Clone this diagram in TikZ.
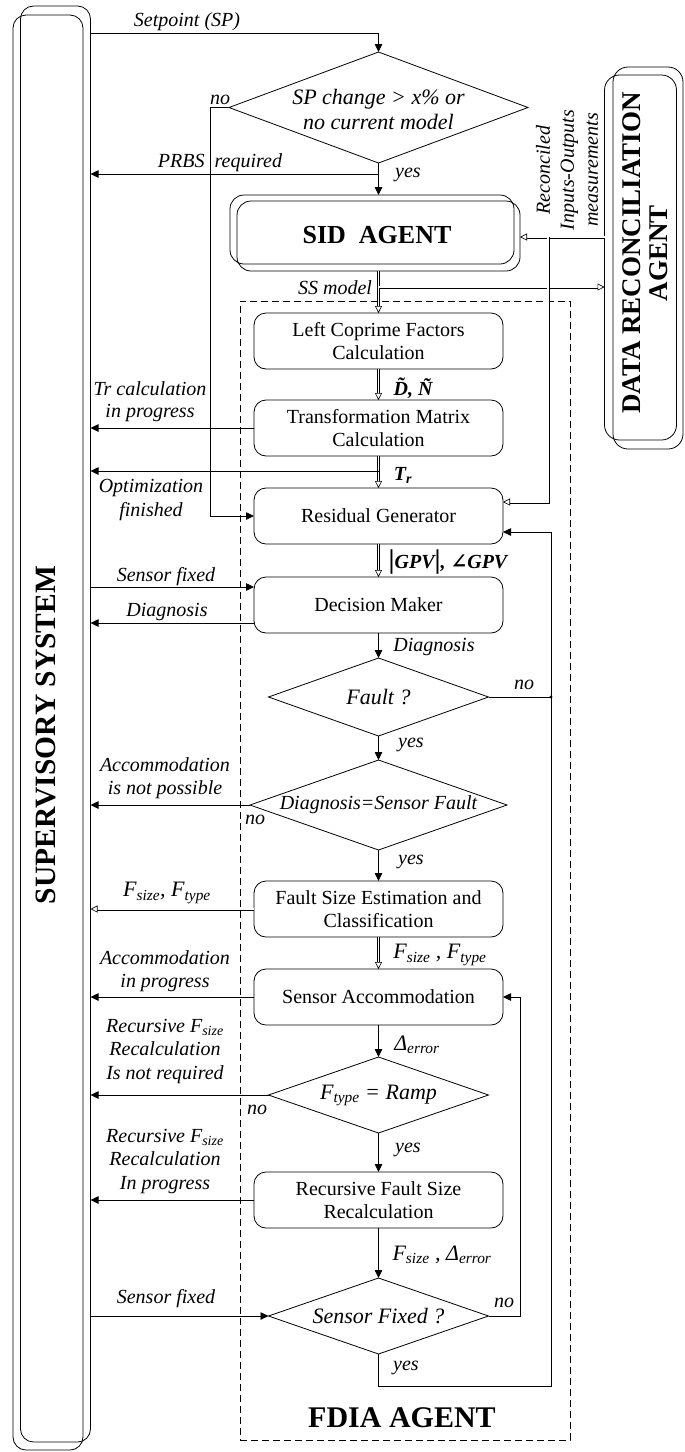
\documentclass[tikz,border=0pt]{standalone}
\usepackage{fontspec}
\setmainfont{Liberation Serif}
\newfontfamily\symfont{DejaVu Serif}
\usetikzlibrary{shapes.geometric,arrows.meta,calc}
\begin{document}
\begin{tikzpicture}[x=1pt,y=-1pt,
  every node/.style={inner sep=0pt, outer sep=0pt},
  box/.style={draw, line width=0.8pt, rounded corners=12pt, minimum width=249pt, minimum height=56pt, align=center, font=\fontsize{20}{23}\selectfont},
  dia/.style={draw, line width=0.8pt, diamond},
  dtext/.style={font=\fontsize{22}{25}\selectfont\itshape, align=center},
  lbl/.style={font=\fontsize{20}{23.5}\selectfont\itshape, align=center},
  blbl/.style={font=\fontsize{20}{24}\selectfont\bfseries\itshape, align=center},
  big/.style={font=\fontsize{27}{27}\selectfont\bfseries, align=center},
  frame/.style={draw, line width=0.8pt, rounded corners=13pt},
  arr/.style={line width=0.8pt, -{Triangle[length=8pt,width=7.5pt]}},
  ln/.style={line width=0.8pt},
  dbl/.style={double, line width=0.6pt, double distance=1.8pt, -{Triangle[open,length=7pt,width=7pt]}}
]
\useasboundingbox (0,0) rectangle (685,1452);

% frames
\node[frame, minimum width=70pt, minimum height=1436pt] (sup) at (55.5,724) {};
\node[frame, minimum width=70pt, minimum height=1435pt] (sup2) at (48,732.5) {};
\node[big, font=\fontsize{29.5}{30}\selectfont\bfseries, rotate=90] (supt) at (46,735) {SUPERVISORY SYSTEM};

\node[frame, rounded corners=15pt, minimum width=72pt, minimum height=365pt] (dra) at (640.5,257.5) {};
\node[frame, rounded corners=15pt, minimum width=70pt, minimum height=382pt] (dra2) at (648,258) {};
\node[big, rotate=90] (drat) at (645.5,253) {DATA RECONCILIATION\\AGENT};

\node[frame, rounded corners=14pt, minimum width=284pt, minimum height=69pt] (sid) at (372,229.5) {};
\node[frame, rounded corners=14pt, minimum width=283pt, minimum height=70pt] (sid2) at (378.5,236) {};
\node[big, font=\fontsize{26}{26}\selectfont\bfseries] (sidt) at (377,235) {SID\ \ AGENT};

\node[draw, dash pattern=on 7pt off 4pt, line width=0.7pt, minimum width=330pt, minimum height=1139pt] (fdia) at (405,870.5) {};
\node[big, font=\fontsize{30}{30}\selectfont\bfseries] (fdiat) at (402,1418) {FDIA AGENT};

% boxes
\node[box] (lcf) at (378.5,341) {Left Coprime Factors\\Calculation};
\node[box] (tmc) at (378.5,428) {Transformation Matrix\\Calculation};
\node[box] (rg) at (378.5,516) {Residual Generator};
\node[box] (dm) at (378.5,605) {Decision Maker};
\node[box] (fse) at (378.5,909) {Fault Size Estimation and\\Classification};
\node[box] (sa) at (378.5,997) {Sensor Accommodation};
\node[box] (rfs) at (378.5,1200) {Recursive Fault Size\\Recalculation};

% diamonds
\node[dia, minimum width=299pt, minimum height=111pt] (d1) at (378.5,107.5) {};
\node[dtext] (d1t) at (378.5,109) {SP change > x\% or\\no current model};
\node[dia, minimum width=220pt, minimum height=78pt] (fault) at (378.5,697) {};
\node[dtext] (faultt) at (fault) {Fault ?};
\node[dia, minimum width=257pt, minimum height=90pt] (diag) at (378.5,805) {};
\node[dtext, font=\fontsize{20}{23}\selectfont\itshape] (diagt) at (diag) {Diagnosis=Sensor Fault};
\node[dia, minimum width=220pt, minimum height=76pt] (ramp) at (378.5,1095) {};
\node[dtext] (rampt) at (ramp) {F\textsubscript{type} = Ramp};
\node[dia, minimum width=220pt, minimum height=76pt] (sf) at (378.5,1316) {};
\node[dtext] (sft) at (sf) {Sensor Fixed ?};

% coordinates
\coordinate (csp) at (378.5,33);
\coordinate (cno) at (210,107.5);
\coordinate (cprbs) at (378.5,174);
\coordinate (css) at (378.5,287);
\coordinate (crec) at (548,237);
\coordinate (crg) at (548,502);
\coordinate (copt) at (378.5,471);
\coordinate (csf1) at (0,587);
\coordinate (cdg) at (0,623);
\coordinate (cfb) at (551,532);
\coordinate (cyes) at (378.5,1386);
\coordinate (csa) at (520,997);
\coordinate (cdot) at (551,697);

% connectors
\draw[arr] (sup.east |- csp) -- (csp) -- (d1.north);
\draw[arr] (d1.west) -- (cno) -- (cno |- rg.west) -- (rg.west);
\draw[arr] (d1.south) -- (d1.south |- sid.north);
\draw[arr] (cprbs) -- (sup.east |- cprbs);
\draw[dbl] (sid2.south) -- (lcf.north);
\draw[dbl] (css) -- (dra.west |- css);
\draw[dbl] (dra.west |- crec) -- (sid2.east |- crec);
\draw[dbl] (crec) -- (crg) -- (rg.east |- crg);
\draw[dbl] (lcf.south) -- (tmc.north);
\draw[arr] (tmc.west) -- (sup.east |- tmc.west);
\draw[dbl] (tmc.south) -- (rg.north);
\draw[arr] (copt) -- (sup.east |- copt);
\draw[dbl] (rg.south) -- (dm.north);
\draw[arr] (sup.east |- csf1) -- (dm.west |- csf1);
\draw[arr] (dm.west |- cdg) -- (sup.east |- cdg);
\draw[arr] (dm.south) -- (fault.north);
\draw[ln] (fault.east) -- (cdot);
\fill (cdot) circle (1.6);
\draw[arr] (sf.south) -- (cyes) -- (cyes -| cfb) -- (cfb) -- (rg.east |- cfb);
\draw[arr] (fault.south) -- (diag.north);
\draw[arr] (diag.west) -- (sup.east |- diag.west);
\draw[arr] (diag.south) -- (fse.north);
\draw[dbl] (fse.west) -- (sup.east |- fse.west);
\draw[dbl] (fse.south) -- (sa.north);
\draw[arr] (sa.west) -- (sup.east |- sa.west);
\draw[arr] (sa.south) -- (ramp.north);
\draw[arr] (ramp.west) -- (sup.east |- ramp.west);
\draw[arr] (ramp.south) -- (rfs.north);
\draw[arr] (rfs.west) -- (sup.east |- rfs.west);
\draw[arr] (rfs.south) -- (sf.north);
\draw[arr] (sup.east |- sf.west) -- (sf.west);
\draw[arr] (sf.east) -- (sf.east -| csa) -- (csa) -- (sa.east);

% labels
\node[lbl] (l1) at (187,22) {Setpoint (SP)};
\node[lbl] (l2) at (220,100) {no};
\node[lbl] (l3) at (408,175) {yes};
\node[lbl] (l4) at (220,163) {PRBS\ \ required};
\node[lbl, anchor=east] (l5) at (372,288) {SS model};
\node[lbl, rotate=90, font=\fontsize{20}{24}\selectfont\itshape] (l6) at (567,170) {Reconciled\\Inputs-Outputs\\measurements};
\node[blbl] (l7) at (413,388) {D̃, Ñ};
\node[lbl, font=\fontsize{20}{22}\selectfont\itshape] (l8) at (150,402) {Tr calculation\\in progress};
\node[blbl] (l9) at (403,475) {T\textsubscript{r}};
\node[lbl, font=\fontsize{20}{24}\selectfont\itshape] (l10) at (151,500) {Optimization\\finished};
\node[blbl] (l11) at (448,562) {{\fontsize{27}{27}\selectfont\upshape|}GPV{\fontsize{27}{27}\selectfont\upshape|}, {\symfont\bfseries ∠}GPV};
\node[lbl] (l12) at (166,577) {Sensor fixed};
\node[lbl] (l13) at (167,612) {Diagnosis};
\node[lbl] (l14) at (434,647) {Diagnosis};
\node[lbl] (l15) at (524,685) {no};
\node[lbl] (l16) at (411,745) {yes};
\node[lbl] (l17) at (165,778) {Accommodation\\is not possible};
\node[lbl] (l18) at (255,820) {no};
\node[lbl] (l19) at (411,862) {yes};
\node[lbl, font=\fontsize{22}{24}\selectfont\itshape] (l20) at (167,893) {F\textsubscript{size}, F\textsubscript{type}};
\node[lbl, font=\fontsize{22}{24}\selectfont\itshape] (l21) at (440,955) {F\textsubscript{size} , F\textsubscript{type}};
\node[lbl] (l22) at (165,971) {Accommodation\\in progress};
\node[lbl, font=\fontsize{22}{24}\selectfont\itshape] (l23) at (417,1045) {Δ\textsubscript{error}};
\node[lbl] (l24) at (165,1051) {Recursive F\textsubscript{size}\\Recalculation\\Is not required};
\node[lbl] (l25) at (257,1110) {no};
\node[lbl] (l26) at (408,1150) {yes};
\node[lbl] (l27) at (165,1161) {Recursive F\textsubscript{size}\\Recalculation\\In progress};
\node[lbl, font=\fontsize{22}{24}\selectfont\itshape] (l28) at (442,1255) {F\textsubscript{size} , Δ\textsubscript{error}};
\node[lbl] (l29) at (166,1299) {Sensor fixed};
\node[lbl] (l30) at (504,1303) {no};
\node[lbl] (l31) at (406,1368) {yes};
\end{tikzpicture}
\end{document}
